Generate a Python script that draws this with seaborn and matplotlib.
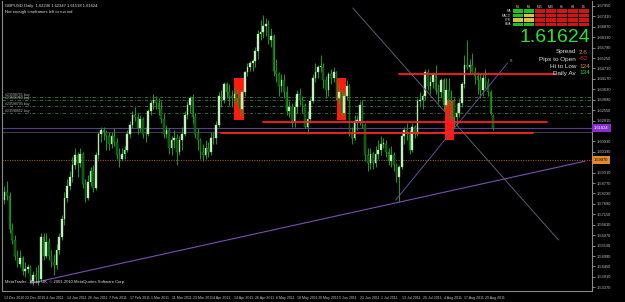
import matplotlib
matplotlib.use("Agg")
import matplotlib.pyplot as plt
import seaborn as sns
import pandas as pd
from matplotlib.patches import Rectangle

# ---------------- data (GBPUSD daily, 13 Dec 2010 .. 1 Sep 2011) ----------------
opens = [1.5790,1.5830,1.5810,1.5640,1.5580,1.5500,1.5460,1.5490,1.5420,1.5430,1.5440,1.5370,1.5400,1.5390,1.5380,
         1.5600,1.5500,1.5570,1.5500,1.5470,1.5450,1.5530,1.5600,1.5690,1.5800,1.5860,1.5910,1.5970,1.6020,1.5980,1.6030,1.5870,1.5800,1.5880,1.5940,1.5850,
         1.6020,1.6130,1.6150,1.6140,1.6120,1.6080,1.6120,1.6090,1.6020,1.6000,1.6030,1.6050,1.6130,1.6180,1.6230,1.6220,1.6160,1.6210,1.6130,1.6130,
         1.6250,1.6290,1.6310,1.6290,1.6260,1.6210,1.6130,1.6150,1.6060,1.6100,1.6110,1.6040,1.6100,1.6130,1.6230,1.6280,1.6320,1.6220,1.6130,1.6100,1.6040,1.6020,1.6060,
         1.6040,1.6110,1.6110,1.6180,1.6330,1.6310,1.6390,1.6350,1.6330,1.6320,1.6340,1.6320,1.6260,1.6350,1.6450,1.6480,1.6500,1.6510,1.6560,1.6650,1.6660,
         1.6690,1.6700,1.6620,1.6640,1.6460,1.6440,1.6380,1.6410,1.6350,1.6250,1.6270,1.6200,1.6270,1.6340,1.6310,1.6280,1.6170,1.6210,1.6300,1.6420,1.6450,1.6480,
         1.6480,1.6410,1.6360,1.6440,1.6420,1.6450,1.6320,1.6350,1.6240,1.6330,1.6380,1.6130,1.6110,1.6200,1.6200,1.6280,1.6180,1.6020,1.5980,1.6030,1.5980,1.6030,
         1.6050,1.6080,1.6080,1.6040,1.5990,1.6020,1.5970,1.5910,1.5960,1.6120,1.6150,1.6140,1.6050,1.6170,1.6130,1.6300,1.6310,1.6330,1.6450,1.6380,1.6400,
         1.6440,1.6360,1.6350,1.6410,1.6280,1.6360,1.6310,1.6300,1.6220,1.6240,1.6290,1.6390,1.6490,1.6480,1.6490,1.6450,1.6430,1.6410,1.6360,1.6420,1.6400,1.6350,
         1.6225]
highs = [1.5860,1.5890,1.5830,1.5670,1.5610,1.5530,1.5530,1.5500,1.5470,1.5460,1.5450,1.5420,1.5440,1.5450,1.5620,
         1.5620,1.5620,1.5590,1.5530,1.5510,1.5560,1.5620,1.5710,1.5830,1.5900,1.5940,1.6010,1.6060,1.6040,1.6060,1.6040,1.5900,1.5920,1.5960,1.5970,1.6040,
         1.6140,1.6170,1.6170,1.6150,1.6140,1.6140,1.6160,1.6110,1.6060,1.6060,1.6070,1.6150,1.6200,1.6250,1.6270,1.6240,1.6230,1.6220,1.6170,1.6260,
         1.6310,1.6340,1.6330,1.6320,1.6300,1.6240,1.6180,1.6160,1.6120,1.6150,1.6130,1.6120,1.6170,1.6250,1.6300,1.6330,1.6340,1.6240,1.6160,1.6110,1.6080,1.6100,1.6090,
         1.6140,1.6140,1.6200,1.6350,1.6360,1.6400,1.6400,1.6390,1.6360,1.6370,1.6370,1.6340,1.6360,1.6460,1.6500,1.6510,1.6520,1.6580,1.6670,1.6720,1.6746,
         1.6730,1.6720,1.6680,1.6650,1.6520,1.6450,1.6440,1.6440,1.6380,1.6300,1.6290,1.6300,1.6360,1.6370,1.6330,1.6290,1.6250,1.6320,1.6440,1.6500,1.6490,1.6540,
         1.6500,1.6430,1.6450,1.6470,1.6480,1.6460,1.6390,1.6360,1.6350,1.6410,1.6390,1.6170,1.6230,1.6230,1.6300,1.6310,1.6190,1.6060,1.6060,1.6040,1.6070,1.6100,
         1.6120,1.6110,1.6100,1.6060,1.6070,1.6040,1.5980,1.5970,1.6140,1.6170,1.6190,1.6150,1.6190,1.6180,1.6320,1.6350,1.6340,1.6470,1.6470,1.6430,1.6450,
         1.6490,1.6390,1.6420,1.6420,1.6420,1.6420,1.6360,1.6320,1.6290,1.6320,1.6400,1.6540,1.6618,1.6520,1.6550,1.6480,1.6450,1.6440,1.6440,1.6470,1.6420,1.6360,
         1.6235]
lows = [1.5770,1.5790,1.5620,1.5560,1.5480,1.5440,1.5440,1.5400,1.5390,1.5410,1.5360,1.5350,1.5360,1.5350,1.5370,
        1.5480,1.5490,1.5480,1.5440,1.5400,1.5430,1.5510,1.5580,1.5660,1.5780,1.5840,1.5880,1.5950,1.5910,1.5960,1.5850,1.5780,1.5790,1.5860,1.5830,1.5840,
        1.6000,1.6090,1.6100,1.6050,1.6050,1.6060,1.6070,1.6000,1.5960,1.5990,1.6000,1.6040,1.6110,1.6160,1.6200,1.6130,1.6140,1.6110,1.6090,1.6120,
        1.6230,1.6260,1.6260,1.6230,1.6190,1.6110,1.6110,1.6030,1.6020,1.6060,1.5970,1.6020,1.6050,1.6120,1.6210,1.6240,1.6190,1.6110,1.6050,1.6000,1.5990,1.6000,1.6010,
        1.6020,1.6080,1.6080,1.6170,1.6270,1.6290,1.6320,1.6280,1.6270,1.6290,1.6290,1.6220,1.6240,1.6330,1.6430,1.6460,1.6460,1.6480,1.6520,1.6620,1.6630,
        1.6640,1.6600,1.6580,1.6430,1.6400,1.6330,1.6350,1.6320,1.6230,1.6220,1.6170,1.6170,1.6240,1.6280,1.6240,1.6160,1.6130,1.6190,1.6290,1.6400,1.6420,1.6450,
        1.6370,1.6320,1.6330,1.6390,1.6400,1.6310,1.6290,1.6220,1.6230,1.6310,1.6120,1.6080,1.6100,1.6150,1.6180,1.6160,1.5990,1.5940,1.5950,1.5950,1.5960,1.6000,
        1.6020,1.6060,1.6010,1.5970,1.5960,1.5940,1.5880,1.5780,1.5950,1.6080,1.6100,1.6030,1.6040,1.6110,1.6120,1.6270,1.6260,1.6310,1.6360,1.6340,1.6370,
        1.6340,1.6290,1.6320,1.6250,1.6260,1.6280,1.6210,1.6170,1.6180,1.6220,1.6270,1.6370,1.6470,1.6440,1.6450,1.6390,1.6340,1.6320,1.6330,1.6370,1.6330,1.6230,
        1.6152]
closes = [1.5830,1.5810,1.5640,1.5580,1.5500,1.5460,1.5490,1.5420,1.5430,1.5440,1.5370,1.5400,1.5390,1.5380,1.5600,
          1.5500,1.5570,1.5500,1.5470,1.5450,1.5530,1.5600,1.5690,1.5800,1.5860,1.5910,1.5970,1.6020,1.5980,1.6030,1.5870,1.5800,1.5880,1.5940,1.5850,1.6020,
          1.6130,1.6150,1.6140,1.6120,1.6080,1.6120,1.6090,1.6020,1.6000,1.6030,1.6050,1.6130,1.6180,1.6230,1.6220,1.6160,1.6210,1.6130,1.6130,1.6250,
          1.6290,1.6310,1.6290,1.6260,1.6210,1.6130,1.6150,1.6060,1.6100,1.6110,1.6040,1.6100,1.6130,1.6230,1.6280,1.6320,1.6220,1.6130,1.6100,1.6040,1.6020,1.6060,1.6040,
          1.6110,1.6110,1.6180,1.6330,1.6310,1.6390,1.6350,1.6330,1.6320,1.6340,1.6320,1.6260,1.6350,1.6450,1.6480,1.6500,1.6510,1.6560,1.6650,1.6660,1.6690,
          1.6700,1.6620,1.6640,1.6460,1.6440,1.6380,1.6410,1.6350,1.6250,1.6270,1.6200,1.6270,1.6340,1.6310,1.6280,1.6170,1.6210,1.6300,1.6420,1.6450,1.6480,1.6480,
          1.6410,1.6360,1.6440,1.6420,1.6450,1.6320,1.6350,1.6240,1.6330,1.6380,1.6130,1.6110,1.6200,1.6200,1.6280,1.6180,1.6020,1.5980,1.6030,1.5980,1.6030,1.6050,
          1.6080,1.6080,1.6040,1.5990,1.6020,1.5970,1.5910,1.5960,1.6120,1.6150,1.6140,1.6050,1.6170,1.6130,1.6300,1.6310,1.6330,1.6450,1.6380,1.6400,1.6440,
          1.6360,1.6350,1.6410,1.6280,1.6360,1.6310,1.6300,1.6220,1.6240,1.6290,1.6390,1.6490,1.6480,1.6490,1.6450,1.6430,1.6410,1.6360,1.6420,1.6400,1.6350,1.6240,
          1.61624]

date_labels = ["13 Dec 2010", "23 Dec 2010", "4 Jan 2011", "14 Jan 2011", "26 Jan 2011", "7 Feb 2011",
               "17 Feb 2011", "1 Mar 2011", "11 Mar 2011", "23 Mar 2011", "4 Apr 2011", "14 Apr 2011",
               "26 Apr 2011", "6 May 2011", "18 May 2011", "30 May 2011", "9 Jun 2011", "21 Jun 2011",
               "1 Jul 2011", "13 Jul 2011", "25 Jul 2011", "4 Aug 2011", "17 Aug 2011", "29 Aug 2011"]
date_label_bars = [0, 8, 16, 24, 32, 40, 48, 56, 64, 72, 80, 88, 96, 104, 112, 120, 128, 136, 144, 152, 160, 168, 176, 184]

price_ticks = [1.67950, 1.67410, 1.66870, 1.66330, 1.65790, 1.65250, 1.64710, 1.64170, 1.63630, 1.63090,
               1.62550, 1.62010, 1.60930, 1.60390, 1.59310, 1.58770, 1.58230, 1.57690, 1.57150,
               1.56610, 1.56070, 1.55530, 1.54990, 1.54450, 1.53910, 1.53370]

bid = 1.61624
level_orange = 1.5997
order_levels = [1.6323, 1.6307, 1.6276, 1.6240]
order_names = ["#23598751 buy", "#23598760 buy", "#23598793 buy", "#23598852 buy"]
resist_levels = [1.6442, 1.6194, 1.6137]
panel_rows = ["MA", "MACD", "STR", "EMA"]
panel_cols = ["M1", "M5", "M15", "M30", "H1", "H4", "D1"]
panel_colors = [["g", "g", "r", "r", "r", "r", "r"],
                ["g", "y", "r", "r", "r", "r", "r"],
                ["y", "y", "r", "r", "r", "r", "r"],
                ["g", "g", "r", "r", "r", "r", "r"]]
stats_names = ["Spread", "Pips to Open", "Hi to Low", "Daily Av"]
stats_values = ["2.6", "-62", "124", "134"]

# ---------------- style ----------------
sns.set_theme(style="dark", rc={"axes.facecolor": "black", "figure.facecolor": "black",
                                "axes.edgecolor": "#8a8a8a", "text.color": "#d0d0d0",
                                "xtick.color": "#c8c8c8", "ytick.color": "#c8c8c8",
                                "axes.grid": False})
plt.rcParams["font.family"] = ["Liberation Sans", "DejaVu Sans"]

df = pd.DataFrame({"open": opens, "high": highs, "low": lows, "close": closes})
df["bar"] = range(len(df))
df["up"] = df["close"] >= df["open"]
df["bottom"] = df[["open", "close"]].min(axis=1)
df["height"] = (df["close"] - df["open"]).abs().clip(lower=0.00025)

fig = plt.figure(figsize=(6.25, 3.02), dpi=100)
ax = fig.add_axes([2 / 625, 11 / 302, 590 / 625, 290 / 302])
ax.set_facecolor("black")
ax.set_xlim(-0.9, 224.8)
ax.set_ylim(1.53178, 1.68204)

# red boxes behind candles
for (x0, x1, y0, y1) in [(87.8, 91.6, 1.6204, 1.6421), (127.1, 130.6, 1.6204, 1.6421),
                         (168.5, 171.9, 1.6100, 1.6308)]:
    ax.add_patch(Rectangle((x0, y0), x1 - x0, y1 - y0, facecolor="#ff1a10", edgecolor="none", zorder=1))

# horizontal reference lines
for lv in order_levels:
    ax.axhline(lv, color="#3f7a3f", lw=0.6, ls=(0, (4, 2, 1, 2)), zorder=0.5)
for lv, nm in zip(order_levels, order_names):
    ax.text(0.3, lv + 0.0001, nm, fontsize=2.5, color="#b8b8b8", va="bottom", ha="left", zorder=5)
ax.axhline(bid, color="#5a3c90", lw=0.8, zorder=0.6)
ax.axhline(1.6142, color="#3c3c4c", lw=0.8, zorder=0.6)
ax.axhline(level_orange, color="#a0561a", lw=0.8, ls=(0, (1, 1.2)), zorder=0.6)

# candles
wick = "#1f9a22"
ax.vlines(df["bar"], df["low"], df["high"], color=wick, lw=0.7, zorder=2)
up = df[df["up"]]
dn = df[~df["up"]]
ax.bar(up["bar"], up["height"], bottom=up["bottom"], width=0.62, color="#d6f5cf",
       edgecolor="#8fd88a", linewidth=0.3, zorder=3)
ax.bar(dn["bar"], dn["height"], bottom=dn["bottom"], width=0.62, color="#0b4f0e",
       edgecolor=wick, linewidth=0.3, zorder=3)

# trend lines
ax.plot([10.2, 222.0], [1.5358, 1.5990], color="#7a4fb0", lw=0.8, zorder=4)
ax.plot([133.3, 212.0], [1.6784, 1.5582], color="#5c5c74", lw=0.7, zorder=4)
ax.plot([149.7, 192.5], [1.5789, 1.6499], color="#6a4a9a", lw=0.7, zorder=4)
ax.text(193.3, 1.6505, "8", fontsize=3.2, color="#9a9a9a", zorder=5)

# red resistance / support lines
for (x0, x1), lv in zip([(150.9, 210.9), (98.9, 207.5), (82.8, 202.1)], resist_levels):
    ax.plot([x0, x1], [lv, lv], color="#ff2020", lw=1.3, zorder=4.5)

# axes / ticks
ax.spines["top"].set_visible(False)
for s in ["left", "right", "bottom"]:
    ax.spines[s].set_color("#8a8a8a")
    ax.spines[s].set_linewidth(0.8)
ax.yaxis.tick_right()
ax.set_yticks(price_ticks, [f"{v:.5f}" for v in price_ticks])
ax.tick_params(axis="y", length=2, width=0.5, labelsize=2.9, pad=1.5, colors="#c0c0c0")
ax.set_xticks(date_label_bars, date_labels)
ax.tick_params(axis="x", length=3, width=0.5, labelsize=2.6, pad=0.8, colors="#c0c0c0")
for lab in ax.get_xticklabels():
    lab.set_horizontalalignment("left")

# right-side price tags
ax.annotate(f"{bid:.5f}", xy=(1.0, bid), xycoords=("axes fraction", "data"), xytext=(1.5, 0),
            textcoords="offset points", fontsize=2.9, color="white", va="center", ha="left",
            bbox=dict(boxstyle="square,pad=0.45", fc="#8a2cd0", ec="none"), annotation_clip=False)
ax.annotate(f"{level_orange:.5f}", xy=(1.0, level_orange), xycoords=("axes fraction", "data"),
            xytext=(1.5, 0), textcoords="offset points", fontsize=2.9, color="black", va="center",
            ha="left", bbox=dict(boxstyle="square,pad=0.45", fc="#e08a2a", ec="none"), annotation_clip=False)

# title & footer
fig.text(5 / 625, 1 - 6 / 302, "GBPUSD,Daily  1.62246 1.62347 1.61518 1.61624", fontsize=3.0,
         color="#e0e0e0", va="center")
fig.text(5 / 625, 1 - 12 / 302, "Not enough timeframes left to run ind", fontsize=3.0,
         color="#e0e0e0", va="center")
fig.text(5 / 625, 1 - 282 / 302, "MetaTrader - Alpari UK, \u00a9 2001-2010 MetaQuotes Software Corp.",
         fontsize=3.0, color="#e0e0e0", va="center")

# info panel (top right)
cw, ch = 11 / 625, 4.4 / 302
gx0, gy0 = 512 / 625, 1 - 9 / 302
colmap = {"g": "#18c418", "y": "#d8c23a", "r": "#d21414"}
for j, c in enumerate(panel_cols):
    fig.text(gx0 + (j + 0.5) * cw, gy0 + 0.55 * ch, c, fontsize=2.2, color="#e0e0e0", ha="center", va="center")
for i, rname in enumerate(panel_rows):
    y = gy0 - (i + 1) * ch
    fig.text(gx0 - 1 / 625, y + 0.5 * ch, rname, fontsize=2.2, color="#e0e0e0", ha="right", va="center")
    for j in range(len(panel_cols)):
        fig.patches.append(Rectangle((gx0 + j * cw + 0.5 / 625, y + 0.4 / 302), cw - 1 / 625, ch - 0.8 / 302,
                                     transform=fig.transFigure, facecolor=colmap[panel_colors[i][j]],
                                     edgecolor="none"))
fig.text(590 / 625, 1 - 38 / 302, f"{bid:.5f}", fontsize=14, color="#2ee02e", ha="right", va="center")
val_colors = ["#e08a2a", "#e02a2a", "#e08a2a", "#2ee02e"]
for k, (nm, vv) in enumerate(zip(stats_names, stats_values)):
    yy = 1 - (52 + 7 * k) / 302
    fig.text(576 / 625, yy, nm, fontsize=4.6, color="#e0e0e0", ha="right", va="center")
    fig.text(579 / 625, yy, vv, fontsize=4.6, color=val_colors[k], ha="left", va="center")

fig.savefig("out.png", dpi=100, facecolor="black")
